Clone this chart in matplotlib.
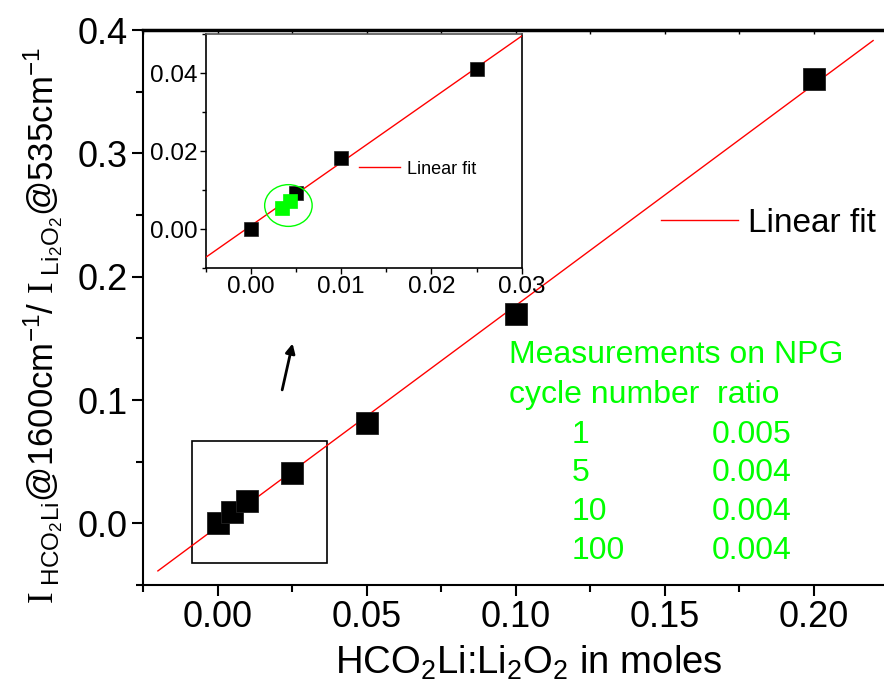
import numpy as np
import matplotlib
matplotlib.use('Agg')
import matplotlib.pyplot as plt
from matplotlib.patches import Rectangle, Ellipse
from matplotlib.ticker import MultipleLocator, FormatStrFormatter

plt.rcParams['font.family'] = ['Liberation Sans', 'DejaVu Sans']
plt.rcParams['mathtext.fontset'] = 'custom'
plt.rcParams['mathtext.rm'] = 'Liberation Sans'
plt.rcParams['mathtext.it'] = 'Liberation Sans:italic'
plt.rcParams['mathtext.tt'] = 'Liberation Serif'

# calibration data (molar ratio vs intensity ratio)
mole_ratio = [0.0, 0.005, 0.01, 0.025, 0.05, 0.1, 0.2]
intensity_ratio = [0.0, 0.0092, 0.0181, 0.0409, 0.0814, 0.1698, 0.3602]

# NPG measurements shown in the inset
npg_x = [0.0035, 0.0043]
npg_y = [0.0054, 0.0072]

cycles = ['1', '5', '10', '100']
ratios = ['0.005', '0.004', '0.004', '0.004']

green = '#00ff00'
W, H = 884, 689

fig = plt.figure(figsize=(8.84, 6.89), dpi=100)

# main axes
ax = fig.add_axes([143 / W, 1 - 585 / H, 745 / W, 555 / H])
x = np.array(mole_ratio)
y = np.array(intensity_ratio)
k, b = np.polyfit(x, y, 1)
xf = np.array([-0.02, 0.22])
ax.plot(xf, k * xf + b, color='red', lw=1.0, label='Linear fit', zorder=3)
ax.plot(x, y, 's', color='black', ms=16, mec='#222222', mew=0.6, zorder=4)

ax.set_xlim(-0.025, 0.225)
ax.set_ylim(-0.05, 0.4)
ax.xaxis.set_major_locator(MultipleLocator(0.05))
ax.xaxis.set_minor_locator(MultipleLocator(0.025))
ax.yaxis.set_major_locator(MultipleLocator(0.1))
ax.yaxis.set_minor_locator(MultipleLocator(0.05))
ax.xaxis.set_major_formatter(FormatStrFormatter('%.2f'))
ax.yaxis.set_major_formatter(FormatStrFormatter('%.1f'))
ax.tick_params(which='major', direction='out', length=8, width=1.5, labelsize=26, pad=3)
ax.tick_params(which='minor', direction='out', length=5, width=1.5)
ax.spines['top'].set_linewidth(2.5)
ax.spines['left'].set_linewidth(1.5)
ax.spines['bottom'].set_linewidth(1.5)
ax.spines['right'].set_linewidth(1.5)

top = ax.secondary_xaxis('top')
top.xaxis.set_major_locator(MultipleLocator(0.05))
top.xaxis.set_minor_locator(MultipleLocator(0.025))
top.tick_params(which='both', direction='in', length=3, width=1, labeltop=False)

ax.set_xlabel(r'HCO$_2$Li:Li$_2$O$_2$ in moles', fontsize=27.5)
ax.xaxis.set_label_coords(0.518, -0.105)
ax.set_ylabel(r'$\mathtt{I}_{\mathrm{\ HCO_2Li}}\mathrm{@1600cm^{-1}/\ }'
              r'\mathtt{I}_{\mathrm{\ Li_2O_2}}\mathrm{@535cm^{-1}}$', fontsize=25)
ax.yaxis.set_label_coords(-0.103, 0.468)

ax.legend(loc='center left', bbox_to_anchor=(0.6953, 0.652), frameon=False,
          fontsize=24, handlelength=2.3, handletextpad=0.3,
          borderpad=0, borderaxespad=0)

# zoom box and arrow
ax.add_patch(Rectangle((-0.0084, -0.032), 0.045, 0.099, fill=False,
                       ec='black', lw=1.2, zorder=2))
ax.annotate('', xy=(0.0254, 0.148), xytext=(0.0215, 0.106),
            arrowprops=dict(arrowstyle='-|>', color='black', lw=2,
                            mutation_scale=14))

# green notes
fig.text(509 / W, 1 - 355 / H, 'Measurements on NPG', color=green,
         fontsize=23, va='center', ha='left')
fig.text(509 / W, 1 - 395 / H, 'cycle number  ratio', color=green,
         fontsize=23, va='center', ha='left')
rows_y = [435, 473, 512, 551]
for c, r, yy in zip(cycles, ratios, rows_y):
    fig.text(572 / W, 1 - yy / H, c, color=green, fontsize=23, va='center', ha='left')
    fig.text(712 / W, 1 - yy / H, r, color=green, fontsize=23, va='center', ha='left')

# inset
ins = fig.add_axes([205.7 / W, 1 - 268 / H, 316 / W, 234 / H])
xs = x[:4]
ys = y[:4]
ki, bi = np.polyfit(xs, ys, 1)
xi = np.array([-0.005, 0.03])
ins.plot(xi, ki * xi + bi, color='red', lw=1.0, label='Linear fit', zorder=3)
ins.plot(xs, ys, 's', color='black', ms=10, mec='#222222', mew=0.5, zorder=4)
ins.plot(npg_x, npg_y, 's', color=green, ms=10, mec=green, mew=0.5, zorder=5)
ins.add_patch(Ellipse((0.00416, 0.00602), 0.00526, 0.0107, fill=False,
                      ec=green, lw=1.0, zorder=6))
ins.set_xlim(-0.005, 0.03)
ins.set_ylim(-0.01, 0.05)
ins.xaxis.set_major_locator(MultipleLocator(0.01))
ins.xaxis.set_minor_locator(MultipleLocator(0.005))
ins.yaxis.set_major_locator(MultipleLocator(0.02))
ins.yaxis.set_minor_locator(MultipleLocator(0.01))
ins.xaxis.set_major_formatter(FormatStrFormatter('%.2f'))
ins.yaxis.set_major_formatter(FormatStrFormatter('%.2f'))
ins.tick_params(which='major', direction='out', length=4, width=1, labelsize=17.5, pad=2)
ins.tick_params(which='minor', direction='out', length=3, width=1)
ins.spines['top'].set_color('#555555')
for s in ins.spines.values():
    s.set_linewidth(1.2)
ins.legend(loc='center left', bbox_to_anchor=(0.485, 0.423), frameon=False,
           fontsize=13, handlelength=2.3, handletextpad=0.35,
           borderpad=0, borderaxespad=0)

fig.savefig('out.png', dpi=100)
